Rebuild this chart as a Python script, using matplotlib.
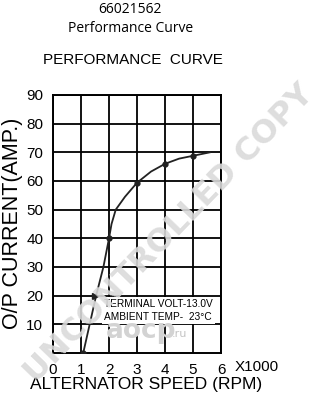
import matplotlib
matplotlib.use("Agg")
import matplotlib.pyplot as plt

# values
speed = [1.08, 1.54, 1.8, 2.0, 2.09, 2.24, 2.57, 3.0, 3.5, 4.0, 4.5, 5.0, 5.6]
current = [0, 20, 30, 40, 45, 50, 54.5, 59.4, 63.3, 66, 67.8, 68.8, 70]
marked_speed = [1.08, 2.0, 3.0, 4.0, 5.0]
marked_current = [0, 40, 59.4, 66, 68.8]
xticks = [0, 1, 2, 3, 4, 5, 6]
yticks = [10, 20, 30, 40, 50, 60, 70, 80, 90]

plt.rcParams['font.family'] = ['Liberation Sans', 'DejaVu Sans']

fig = plt.figure(figsize=(3.31, 4.0), dpi=100)
ax = fig.add_axes([0.160, 0.1175, 0.508, 0.645])

ax.set_xlim(0, 6)
ax.set_ylim(0, 90)
ax.set_xticks(xticks)
ax.set_yticks(yticks)
ax.grid(True, color='black', linewidth=1.3)
ax.set_axisbelow(True)
for s in ax.spines.values():
    s.set_linewidth(1.4)
ax.tick_params(length=0, labelsize=11, pad=7)

ax.plot(speed, current, color='#222222', linewidth=1.3, zorder=3)
ax.plot(marked_speed, marked_current, 'o', color='#222222', markersize=3.5, zorder=4)
ax.plot([1.5], [20], '>', color='#222222', markersize=5, zorder=4)

# note box
ax.text(1.82, 18.9, 'TERMINAL VOLT-13.0V\nAMBIENT TEMP-  23°C', fontsize=7.3,
        va='top', ha='left', linespacing=1.35, zorder=5,
        bbox=dict(facecolor='white', edgecolor='none', pad=1.5))

fig.text(0.775, 0.0825, 'X1000', fontsize=11, ha='center', va='center')
fig.text(0.441, 0.0375, 'ALTERNATOR SPEED (RPM)', fontsize=12.5,
         ha='center', va='center')
fig.text(0.039, 0.4425, 'O/P CURRENT(AMP.)', fontsize=15.5, rotation=90,
         ha='center', va='center')

fig.text(0.402, 0.85, 'PERFORMANCE  CURVE', fontsize=11, ha='center', va='center')
fig.text(0.393, 0.977, '66021562', fontsize=10, ha='center', va='center',
         family='Open Sans')
fig.text(0.393, 0.93, 'Performance Curve', fontsize=10, ha='center', va='center',
         family='Open Sans')

# watermark
fig.text(0.512, 0.415, 'UNCONTROLLED COPY', fontsize=23, fontweight='bold',
         color='#dadada', alpha=0.9, rotation=46, ha='center', va='center',
         family='DejaVu Sans')
fig.text(0.425, 0.172, 'aocp', fontsize=19, fontweight='bold', color='#d3d3d3',
         ha='center', va='center', family='DejaVu Sans')
fig.text(0.543, 0.166, '.ru', fontsize=8, color='#c4c4c4',
         ha='center', va='center', family='DejaVu Sans')

fig.savefig('out.png', dpi=100)
